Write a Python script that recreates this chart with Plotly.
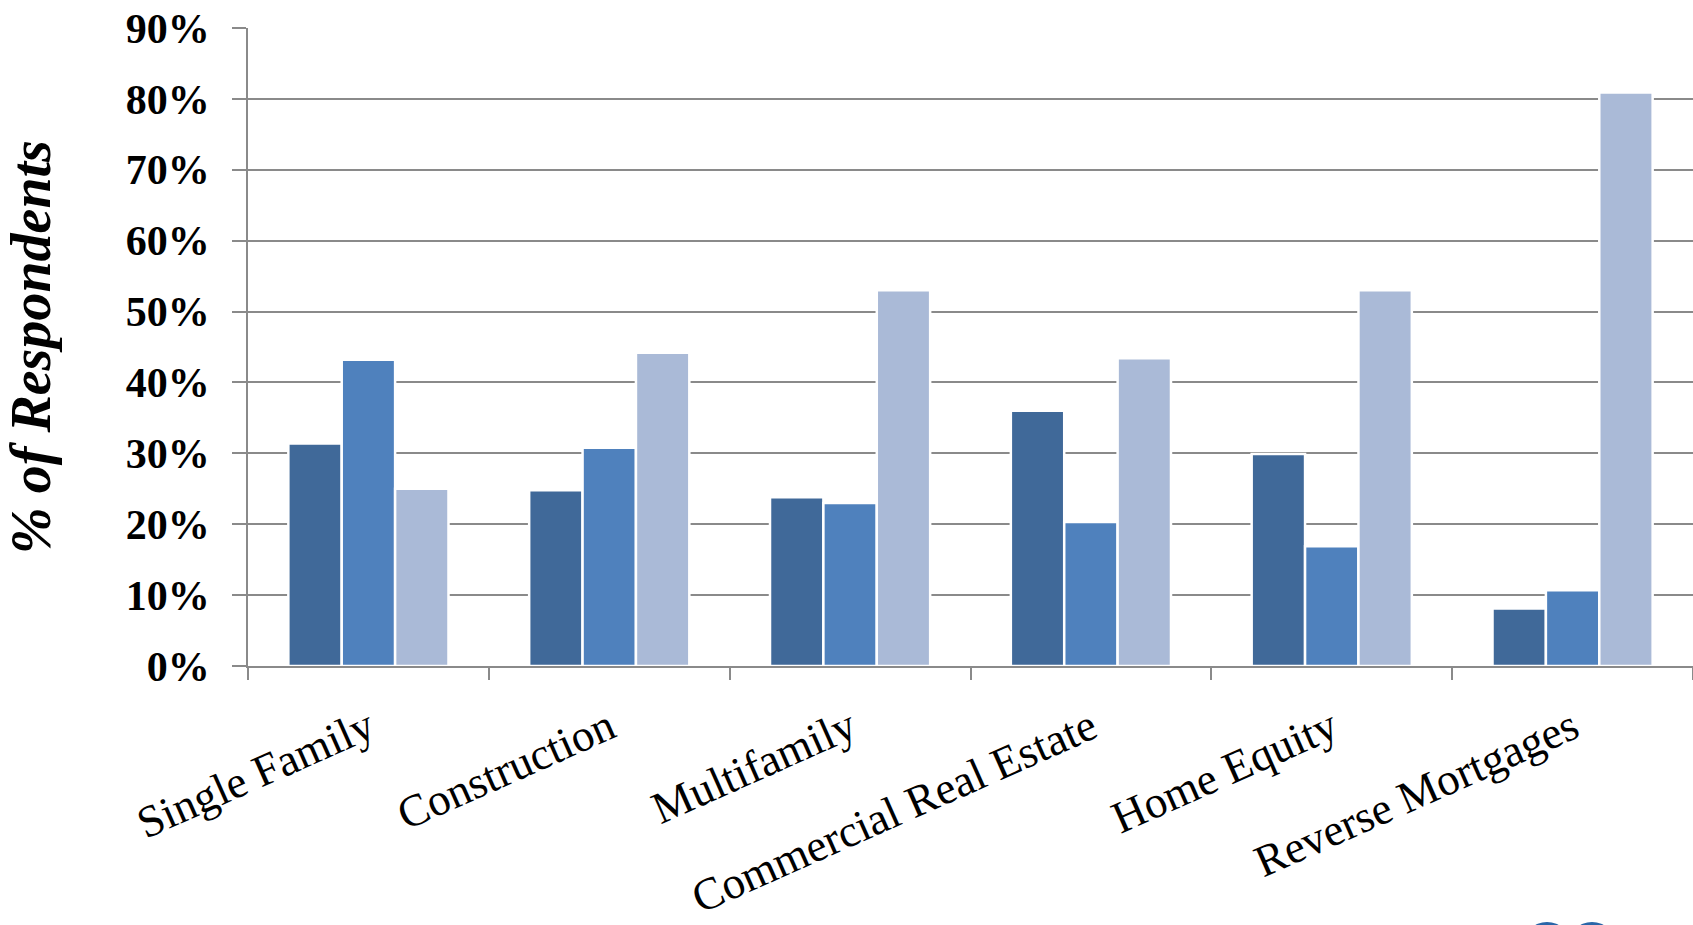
import plotly.graph_objects as go

# Survey responses by loan type (share of respondents)
categories = ["Single Family", "Construction", "Multifamily",
              "Commercial Real Estate", "Home Equity", "Reverse Mortgages"]
series_a = [0.314, 0.248, 0.238, 0.360, 0.299, 0.081]
series_b = [0.432, 0.308, 0.230, 0.203, 0.169, 0.107]
series_c = [0.250, 0.442, 0.530, 0.434, 0.530, 0.809]
y_ticks = [0.0, 0.1, 0.2, 0.3, 0.4, 0.5, 0.6, 0.7, 0.8, 0.9]
y_tick_text = ["0%", "10%", "20%", "30%", "40%", "50%", "60%", "70%", "80%", "90%"]

colors = ["#406999", "#4F81BD", "#AABAD7"]
grid = "#8A8A8A"
W, H = 1693, 925
ML, MR, MT, MB = 248, 0, 28, 259

fig = go.Figure()
for vals, col in zip([series_a, series_b, series_c], colors):
    fig.add_trace(go.Bar(
        x=categories, y=vals,
        marker=dict(color=col, line=dict(color="white", width=2.5)),
        hoverinfo="skip",
    ))


def px_to_paper(xp, yp):
    pw = W - ML - MR
    ph = H - MT - MB
    return (xp - ML) / pw, (H - MB - yp) / ph


# partial logo circles at the bottom-right edge
for cx in (1547, 1592):
    r = 24
    x0, y0 = px_to_paper(cx - r, 922 + 2 * r)
    x1, y1 = px_to_paper(cx + r, 922)
    fig.add_shape(type="circle", xref="paper", yref="paper",
                  x0=x0, x1=x1, y0=y0, y1=y1,
                  fillcolor="#2A66A8", line=dict(width=0), layer="above")

fig.update_layout(
    width=W, height=H,
    margin=dict(l=ML, r=MR, t=MT, b=MB, pad=0),
    paper_bgcolor="white", plot_bgcolor="white",
    barmode="group", bargap=0.335, bargroupgap=0.0,
    showlegend=False,
    font=dict(family="Liberation Serif", color="black"),
)
fig.update_yaxes(
    range=[0, 0.9], tickvals=y_ticks, ticktext=y_tick_text,
    showgrid=True, gridcolor=grid, gridwidth=1.8,
    showline=True, linecolor=grid, linewidth=1.8,
    ticks="outside", ticklen=14, tickcolor=grid, tickwidth=1.8,
    tickfont=dict(family="Liberation Serif", size=42, color="black", weight="bold"),
    ticklabelstandoff=14,
    zeroline=False,
    title=dict(text="<b><i>% of Respondents</i></b>",
               font=dict(family="Liberation Serif", size=56, color="black"),
               standoff=58),
    automargin=False,
)
fig.update_xaxes(
    showline=True, linecolor=grid, linewidth=1.8,
    ticks="outside", ticklen=12, tickcolor=grid, tickwidth=1.8,
    tickson="boundaries", tickangle=-24,
    tickfont=dict(family="Liberation Serif", size=45, color="black"),
    ticklabelstandoff=16,
    showgrid=False,
    automargin=False,
)

fig.write_html("out.html")
